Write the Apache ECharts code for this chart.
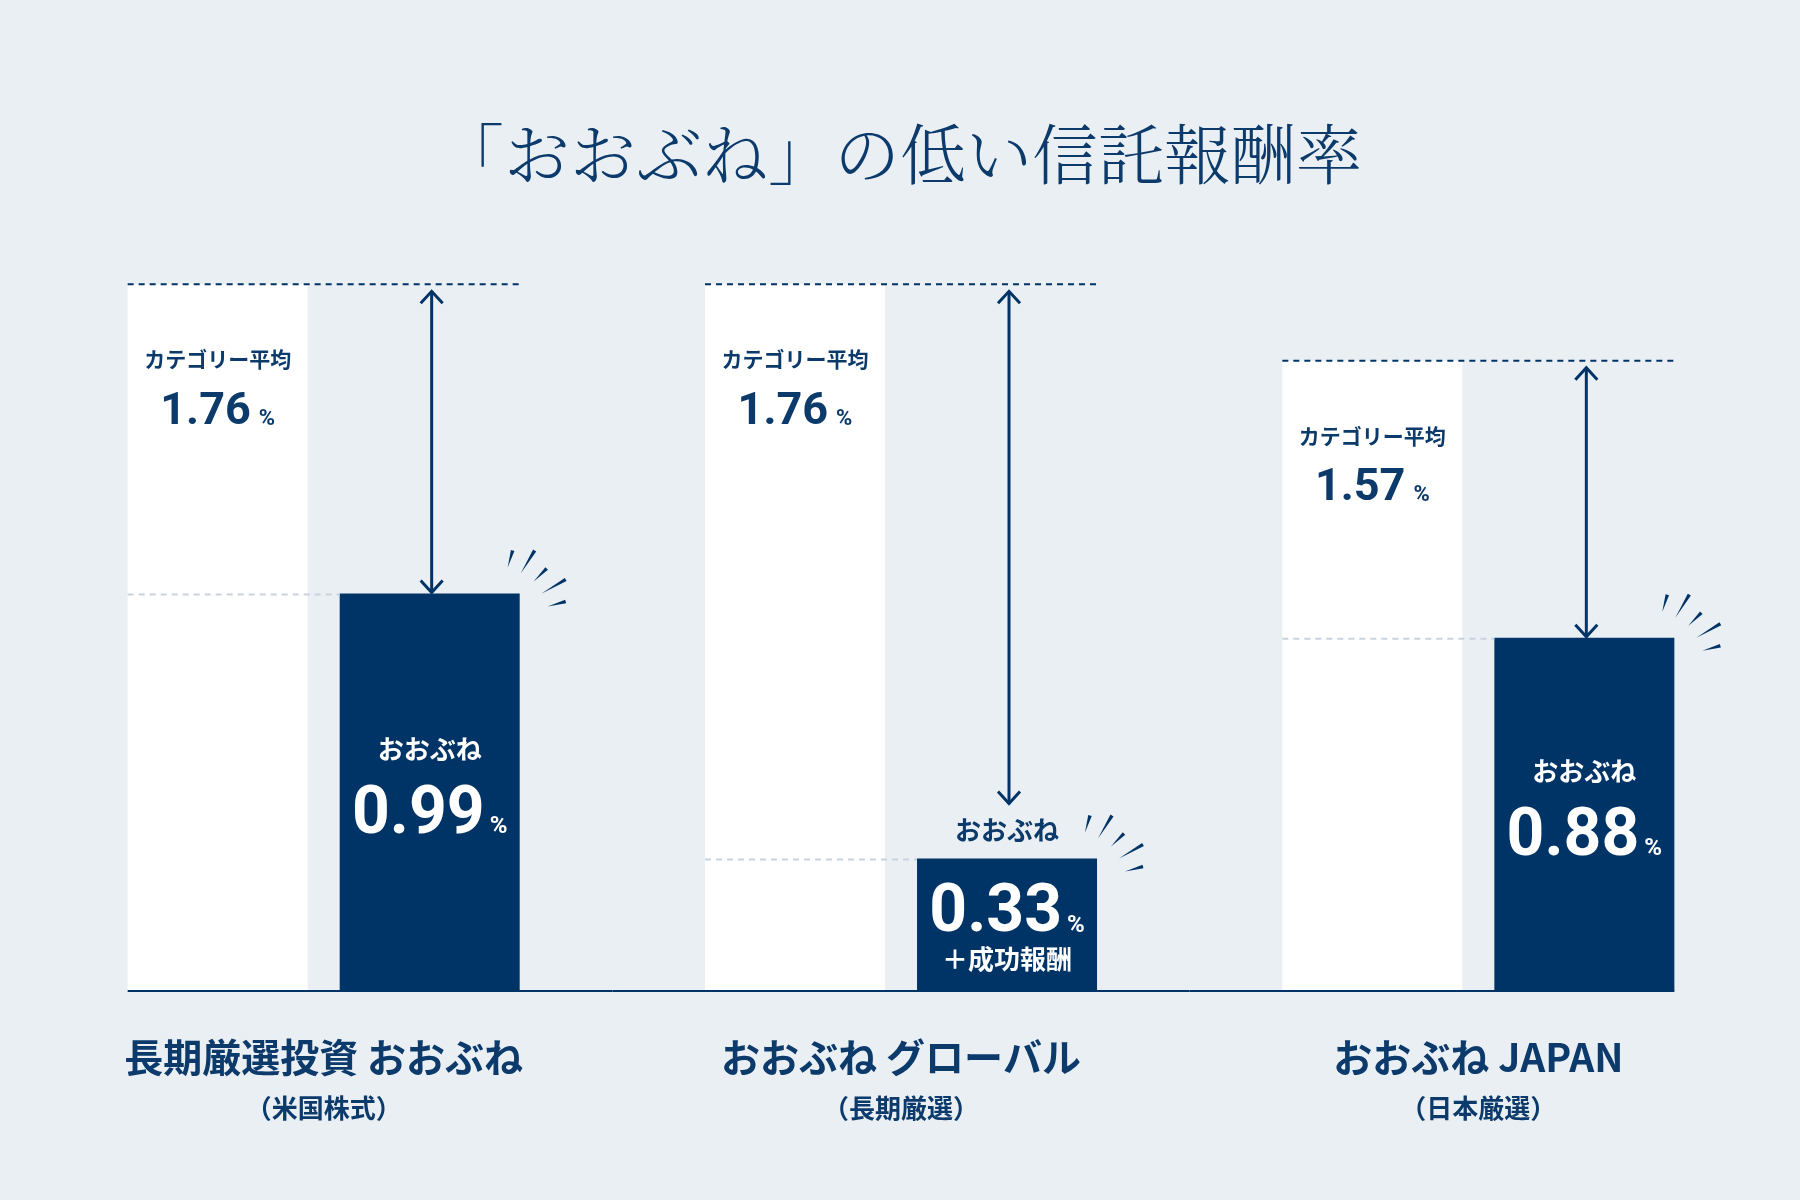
<!DOCTYPE html>
<html>
<head>
<meta charset="utf-8">
<title>「おおぶね」の低い信託報酬率</title>
<script src="https://cdn.jsdelivr.net/npm/echarts@6/dist/echarts.min.js"></script>
<style>
  html, body { margin: 0; padding: 0; background: #eaeff4; }
  #chart { width: 1800px; height: 1200px; }
</style>
</head>
<body>
<div id="chart"></div>
<script>
// ファンド名（x軸）
const categories = ['長期厳選投資 おおぶね', 'おおぶね グローバル', 'おおぶね JAPAN'];
const subLabels = ['（米国株式）', '（長期厳選）', '（日本厳選）'];
// 信託報酬率（%）
const categoryAvg = [1.76, 1.76, 1.57];
const oobuneFee = [0.99, 0.33, 0.88];
const feeNotes = ['', '＋成功報酬', ''];

const NAVY = '#003466';
const TEXT = '#0b3a6b';
const LIGHT = '#c9d3de';
const BAR_W = 180;
const BAR_GAP = 32;
const JP = '"Noto Sans CJK JP", sans-serif';
const NUM = 'Roboto, "Noto Sans", sans-serif';

// きらきら（棒の右上からの相対位置: 外側, 内側）
const SPARKS = [
    [[-7, -43], [-12, -26]],
    [[15, -43], [1, -20]],
    [[27, -25], [14, -12]],
    [[46, -14], [22, 0]],
    [[46, 8], [28, 13]]
];

const chart = echarts.init(document.getElementById('chart'));

function renderOverlay(params, api) {
    const i = api.value(0);
    const avgY = api.coord([i, api.value(1)])[1];
    const feeY = api.coord([i, api.value(2)])[1];
    const base = api.coord([i, 0]);
    const cx = base[0];
    const baseY = base[1];
    const catW = api.size([1, 0])[0];
    const n = categories.length;
    const whiteL = cx - BAR_W - BAR_GAP / 2;
    const navyL = cx + BAR_GAP / 2;
    const navyR = navyL + BAR_W;
    const ax = navyL + BAR_W / 2 + 2;
    const arrowTop = avgY + 7;
    const arrowBot = feeNotes[i] ? feeY - 55 : feeY - 1;
    const children = [];

    // 平均の点線
    children.push({
        type: 'line',
        shape: {x1: whiteL, y1: avgY, x2: navyR, y2: avgY},
        style: {stroke: NAVY, lineWidth: 2, lineDash: [6, 5]}
    });
    // おおぶねの高さの薄い点線
    children.push({
        type: 'line',
        shape: {x1: whiteL, y1: feeY + 1, x2: navyL, y2: feeY + 1},
        style: {stroke: LIGHT, lineWidth: 2, lineDash: [6, 5]}
    });
    // 矢印
    children.push({
        type: 'line',
        shape: {x1: ax, y1: arrowTop, x2: ax, y2: arrowBot},
        style: {stroke: NAVY, lineWidth: 3}
    });
    children.push({
        type: 'polyline',
        shape: {points: [[ax - 11, arrowTop + 12], [ax, arrowTop], [ax + 11, arrowTop + 12]]},
        style: {stroke: NAVY, lineWidth: 3, fill: null}
    });
    children.push({
        type: 'polyline',
        shape: {points: [[ax - 11, arrowBot - 12], [ax, arrowBot], [ax + 11, arrowBot - 12]]},
        style: {stroke: NAVY, lineWidth: 3, fill: null}
    });
    // きらきら
    SPARKS.forEach(function (s) {
        const ox = navyR + s[0][0], oy = feeY + s[0][1];
        const ix = navyR + s[1][0], iy = feeY + s[1][1];
        const len = Math.hypot(ox - ix, oy - iy);
        const px = -(oy - iy) / len * 1.8, py = (ox - ix) / len * 1.8;
        children.push({
            type: 'polygon',
            shape: {points: [[ox + px, oy + py], [ox - px, oy - py], [ix, iy]]},
            style: {fill: NAVY}
        });
    });
    // ベースライン
    children.push({
        type: 'line',
        shape: {
            x1: i === 0 ? whiteL : cx - catW / 2, y1: baseY,
            x2: i === n - 1 ? navyR : cx + catW / 2, y2: baseY
        },
        style: {stroke: NAVY, lineWidth: 2}
    });
    return {type: 'group', children: children};
}

const numRich = {
    name: {fontSize: 26, fontWeight: 'bold', color: '#fff', fontFamily: JP, lineHeight: 60},
    nameDark: {fontSize: 26, fontWeight: 'bold', color: TEXT, fontFamily: JP, lineHeight: 94},
    num: {fontSize: 66, fontWeight: 'bold', color: '#fff', fontFamily: NUM, lineHeight: 74},
    pct: {fontSize: 24, fontWeight: 'bold', color: '#fff', fontFamily: NUM, padding: [22, 0, 0, 5]},
    note: {fontSize: 26, fontWeight: 'bold', color: '#fff', fontFamily: JP, lineHeight: 16}
};

const oobuneData = oobuneFee.map(function (v, i) {
    if (!feeNotes[i]) return v;
    return {
        value: v,
        label: {
            position: 'insideTop',
            distance: 0,
            offset: [0, -75],
            formatter: function (p) {
                return '{nameDark|' + p.seriesName + '}\n{num|' + p.value.toFixed(2) + '}{pct|%}\n{note|' + feeNotes[i] + '}';
            }
        }
    };
});

chart.setOption({
    backgroundColor: '#eaeff4',
    animation: false,
    title: {
        text: '「おおぶね」の低い信託報酬率',
        left: 'center',
        top: 116,
        textStyle: {
            fontSize: 66,
            fontWeight: 300,
            color: TEXT,
            fontFamily: '"Noto Serif CJK JP", "Noto Sans CJK JP", serif'
        }
    },
    grid: {left: 35, right: 33, top: 188, bottom: 209},
    xAxis: {
        type: 'category',
        data: categories,
        axisLine: {show: false},
        axisTick: {show: false},
        axisLabel: {
            interval: 0,
            margin: 41,
            formatter: function (value, idx) {
                return '{main|' + value + '}\n{sub|' + subLabels[idx] + '}';
            },
            rich: {
                main: {fontSize: 39, fontWeight: 'bold', color: TEXT, fontFamily: JP, lineHeight: 50},
                sub: {fontSize: 26, fontWeight: 'bold', color: TEXT, fontFamily: JP, lineHeight: 52}
            }
        }
    },
    yAxis: {
        type: 'value',
        min: 0,
        max: 2,
        show: false,
        splitLine: {show: false}
    },
    series: [
        {
            name: 'カテゴリー平均',
            type: 'bar',
            barWidth: BAR_W,
            barGap: (BAR_GAP / BAR_W * 100).toFixed(1) + '%',
            data: categoryAvg,
            itemStyle: {color: '#ffffff'},
            emphasis: {disabled: true},
            label: {
                show: true,
                position: 'insideTop',
                distance: 60,
                formatter: function (p) {
                    return '{cap|' + p.seriesName + '}\n{num|' + p.value.toFixed(2) + '}{pct|%}';
                },
                rich: {
                    cap: {fontSize: 21, fontWeight: 'bold', color: TEXT, fontFamily: JP, lineHeight: 30},
                    num: {fontSize: 45, fontWeight: 'bold', color: TEXT, fontFamily: NUM, lineHeight: 76},
                    pct: {fontSize: 22, fontWeight: 'bold', color: TEXT, fontFamily: NUM, padding: [14, 0, 0, 8]}
                }
            }
        },
        {
            name: 'おおぶね',
            type: 'bar',
            barWidth: BAR_W,
            data: oobuneData,
            itemStyle: {color: NAVY},
            emphasis: {disabled: true},
            label: {
                show: true,
                position: 'inside',
                offset: [0, -6],
                formatter: function (p) {
                    return '{name|' + p.seriesName + '}\n{num|' + p.value.toFixed(2) + '}{pct|%}';
                },
                rich: numRich
            }
        },
        {
            type: 'custom',
            silent: true,
            z: 10,
            renderItem: renderOverlay,
            data: categories.map(function (c, i) {
                return [i, categoryAvg[i], oobuneFee[i]];
            })
        }
    ]
});
</script>
</body>
</html>
